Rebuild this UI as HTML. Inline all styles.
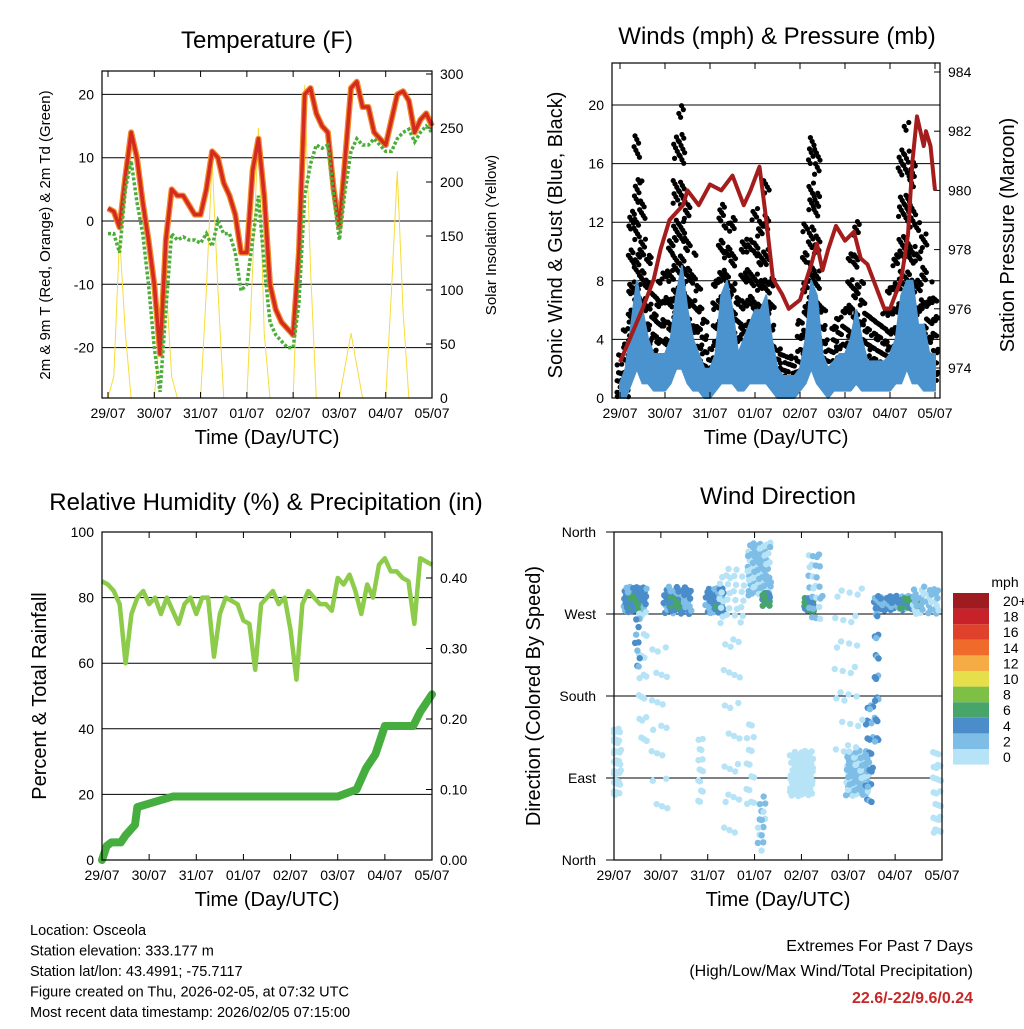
<!DOCTYPE html>
<html><head><meta charset="utf-8"><style>
body{margin:0;background:#fff;font-family:"Liberation Sans",Arial,sans-serif}
svg text{font-family:"Liberation Sans",Arial,sans-serif;fill:#000}
</style></head><body>
<svg id="s" width="1024" height="1024" viewBox="0 0 1024 1024" xmlns="http://www.w3.org/2000/svg"></svg>
<script>
// ---------- data (3-hourly, day 0..7) ----------
const dayLabels=["29/07","30/07","31/07","01/07","02/07","03/07","04/07","05/07"];
const tempT=[2,1.5,-1,7,14,10,3,-3,-10,-21,-3,5,4,4,2.5,1,1,5,11,10,6,4,1,-5,-5,8,13,4,-10,-14,-16,-17,-18,-5,20,21,17,15,14,5,-1,10,21,22,18,18,14,13,12,16,20,20.5,19,14,16,17,15];
const tempTd=[-2,-2,-5,5,9.5,3,-2,-10,-20,-27,-14,-2,-3,-2.5,-3,-3,-3.5,-2,-4,0,-2,-2,-5,-11,-10,-3,4,-7,-16,-18,-19,-20,-20,-13,4,9,12,11.5,12,4,-3,5,11,13,12,12,13,12,11,11,13,14,14.5,12.5,14,15,14];
const solar=[0,20,150,60,0,0,0,0,0,60,110,20,0,0,0,0,0,100,220,100,0,0,0,0,0,120,250,60,0,0,0,0,0,150,290,120,0,0,0,0,0,30,60,30,0,0,0,0,0,100,210,80,0,0,0,0,0];
const gustHi=[3,5,14,18,15,10,8,8,9,12,18,20,14,10,8,6,4,8,14,12,13,8,11,12,13,13,15,9,4,3,3,3,6,12,19,17,7,4,5,6,7,10,13,8,6,6,6,6,8,11,17,19,17,12,12,8,7];
const gustLo=[0,0,2,4,3,2,1,1,1,2,4,5,3,1,1,0.5,0.5,1,3,3,2,1,1,2,2,3,3,1,0.5,0.5,0.5,0.5,1,2,4,3,1,0.5,1,1,1,1,2,1,1,1,1,1,1,2,3,4,3,2,1,1,1];
const sustHi=[1,2,5,8,6,4,3,3,3,4,7,9,6,4,3,2,2,3,7,8,6,3,4,5,6,6,7,4,2,1.5,1.5,1.5,2,4,8,7,3,2,2.5,3,3,4,6,4,2.5,2.5,2.5,2.5,3,4,7,8,8,5,5,3,3];
const sustLo=[0,0,1,2,1,1,0.5,0.5,0.5,1,2,2,1,0.5,0.5,0,0,0.5,1,1,1,0.5,0.5,1,1,1,1,0.5,0,0,0,0,0.5,1,2,1,0.5,0,0.5,0.5,0.5,0.5,1,0.5,0.5,0.5,0.5,0.5,0.5,1,1,2,1,1,0.5,0.5,0.5];
const presT=[0,0.5,0.75,0.9,1.1,1.4,1.5,1.75,2.0,2.25,2.5,2.75,2.9,3.1,3.25,3.4,3.6,3.75,4.0,4.25,4.375,4.5,4.625,4.8,5.0,5.2,5.35,5.5,5.75,5.875,6.0,6.25,6.4,6.5,6.6,6.75,6.8,6.9,7.0];
const presV=[974.2,976,977,978,979,979.5,980,979.5,980.2,980,980.5,979.5,980,980.8,979,977,976.5,976,976.3,977.5,978.2,977.3,978,978.8,978.3,978.6,977.7,977.5,976.5,976,976,977,978.5,981,982.5,981.5,982,981.5,980];
const rh=[85,84,82,78,60,75,80,82,78,80,75,80,76,72,78,80,75,80,80,62,75,80,79,78,73,72,58,78,80,82,78,80,70,55,78,82,80,78,78,76,86,84,87,82,75,84,80,90,92,88,88,86,85,72,92,91,90];
const rainT=[0,0.1,0.2,0.4,0.5,0.7,0.75,1.0,1.5,5.0,5.2,5.4,5.6,5.8,6.0,6.6,6.75,7.0];
const rainV=[0,0.02,0.025,0.025,0.035,0.05,0.075,0.08,0.09,0.09,0.095,0.1,0.13,0.15,0.19,0.19,0.21,0.235];
// wind direction clusters: time, dir(deg), time spread, dir spread, count, speed(mph)
const clT=[0.45,0.45,1.35,1.3,2.15,2.25,2.5,3.1,3.25,4.15,4.3,6.0,6.3,6.65,0.05,4.0,5.2,5.45,1.85,2.9,3.15,6.9,0.6,1.0,2.5,5.0,5.6,0.5];
const clD=[285,283,285,282,285,282,290,320,285,280,300,282,282,285,105,95,95,115,100,110,40,70,200,150,150,200,200,240];
const clDT=[0.25,0.1,0.3,0.1,0.2,0.08,0.3,0.25,0.1,0.12,0.15,0.45,0.2,0.3,0.1,0.25,0.25,0.08,0.06,0.1,0.08,0.1,0.1,0.2,0.2,0.3,0.05,0.05];
const clDD=[15,8,15,6,15,5,30,30,8,8,40,8,6,15,40,25,25,60,40,50,30,50,80,100,120,100,80,30];
const clN=[50,12,50,12,35,10,30,70,15,20,25,70,20,35,40,80,80,25,15,15,15,25,20,20,25,30,20,10];
const clS=[5,7,4,7,4,7,1,3,7,7,2,4,7,2,1,1,2,4,1,1,3,1,1,1,1,1,4,4];
const speedLabels=["0","2","4","6","8","10","12","14","16","18","20+"];
const speedColors=["#b7e3f7","#7ebde6","#4a8dca","#47a56a","#7ebf46","#e5df4c","#f6ac44","#f06a2b","#e0412b","#c7222a","#9e1b1f"];
// ---------- helpers ----------
const S=document.getElementById('s');const NS="http://www.w3.org/2000/svg";
function el(tag,attrs,parent){const e=document.createElementNS(NS,tag);for(const k in attrs)e.setAttribute(k,attrs[k]);(parent||S).appendChild(e);return e;}
function txt(x,y,s,size,anchor,parent,rot,fill,weight){const a={x:x,y:y,'font-size':size,'text-anchor':anchor||'middle'};if(rot)a.transform=`rotate(${rot} ${x} ${y})`;if(fill)a.style='fill:'+fill;if(weight)a['font-weight']=weight;const t=el('text',a,parent);t.textContent=s;return t;}
function grp(name){const g=el('g',{});return g;}
function lin(a0,a1,p0,p1){return v=>p0+(v-a0)/(a1-a0)*(p1-p0);}
function ti(i,n){return i*7/(n-1);}
function fr(v){return v-Math.floor(v);}
function frame(g,x0,y0,x1,y1,xs){el('rect',{x:x0,y:y0,width:x1-x0,height:y1-y0,fill:'none',stroke:'#000','stroke-width':1.2},g);
 const xg=grp('x-axis');g.appendChild(xg);
 dayLabels.forEach((d,i)=>{const x=xs(i);el('line',{x1:x,x2:x,y1:y1,y2:y1-6,stroke:'#000'},xg);el('line',{x1:x,x2:x,y1:y0,y2:y0+6,stroke:'#000'},xg);txt(x,y1+20,d,14,'middle',xg);});
 txt((x0+x1)/2,y1+46,'Time (Day/UTC)',20,'middle',xg);}
// ---------- panel 1 temperature ----------
(function(){const g=grp('temperature-panel');S.appendChild(g);
const X0=102,X1=432,Y0=71,Y1=398;const xs=lin(0,7,108,432);const ys=lin(0,10,221,157.7);const yr=lin(0,300,398,74);
txt(267,48,'Temperature (F)',24,'middle',g);
[20,10,0,-10,-20].forEach(v=>{el('line',{x1:X0,x2:X1,y1:ys(v),y2:ys(v),stroke:'#000','stroke-width':1},g);txt(X0-8,ys(v)+5,String(v),14,'end',g);});
[0,50,100,150,200,250,300].forEach(v=>{el('line',{x1:X1,x2:X1-6,y1:yr(v),y2:yr(v),stroke:'#000'},g);txt(X1+8,yr(v)+5,String(v),14,'start',g);});
txt(50,235,'2m & 9m T (Red, Orange) & 2m Td (Green)',15,'middle',g,-90);
txt(496,235,'Solar Insolation (Yellow)',15,'middle',g,-90);
const sp=solar.map((v,i)=>xs(ti(i,solar.length))+','+yr(v)).join(' ');
const s=el('polyline',{points:sp,fill:'none',stroke:'#f7dc3c','stroke-width':1},g);
const tp=tempT.map((v,i)=>xs(ti(i,tempT.length))+','+ys(v)).join(' ');
const o=el('polyline',{points:tp,fill:'none',stroke:'#f08a2a','stroke-width':6,'stroke-linejoin':'round'},g);
const r=el('polyline',{points:tp,fill:'none',stroke:'#d42a20','stroke-width':3.5,'stroke-linejoin':'round'},g);
const dp=tempTd.map((v,i)=>xs(ti(i,tempTd.length))+','+ys(v)).join(' ');
const d=el('polyline',{points:dp,fill:'none',stroke:'#4cae3a','stroke-width':3.5,'stroke-dasharray':'3 2'},g);
frame(g,X0,Y0,X1,Y1,i=>xs(i));})();
// ---------- panel 2 winds ----------
(function(){const g=grp('winds-panel');S.appendChild(g);
const X0=612,X1=940,Y0=63,Y1=398;const xs=lin(0,7,620,935);const ys=lin(0,20,398,105);const yp=lin(974,984,368,72);
txt(777,44,'Winds (mph) & Pressure (mb)',24,'middle',g);
[0,4,8,12,16,20].forEach(v=>{el('line',{x1:X0,x2:X1,y1:ys(v),y2:ys(v),stroke:'#000'},g);txt(X0-8,ys(v)+5,String(v),14,'end',g);});
[974,976,978,980,982,984].forEach(v=>{el('line',{x1:X1,x2:X1-6,y1:yp(v),y2:yp(v),stroke:'#000'},g);txt(X1+8,yp(v)+5,String(v),14,'start',g);});
txt(562,235,'Sonic Wind & Gust (Blue, Black)',20,'middle',g,-90);
txt(1014,235,'Station Pressure (Maroon)',20,'middle',g,-90);
let k=0;
gustHi.forEach((v,i)=>{const n=gustHi.length;const lo=gustLo[i];const cnt=Math.round(10+v*2.5);
 for(let j=0;j<cnt;j++){k++;const a=fr(k*0.7548777)*2-1,b=Math.pow(fr(k*0.5698403),1.6);
  const c=el('circle',{cx:xs(ti(i,n)+a*0.07),cy:ys(lo+b*(v-lo)),r:2.6,fill:'#000'},g);
  
  }});
const n=sustHi.length;let p=sustHi.map((v,i)=>xs(ti(i,n))+','+ys(v));for(let i=n-1;i>=0;i--)p.push(xs(ti(i,n))+','+ys(sustLo[i]));
const b=el('polygon',{points:p.join(' '),fill:'#4a93cf',stroke:'#4a93cf','stroke-width':2,'stroke-linejoin':'round'},g);
const pp=presV.map((v,i)=>xs(presT[i])+','+yp(v)).join(' ');
const pl=el('polyline',{points:pp,fill:'none',stroke:'#a51c1c','stroke-width':4,'stroke-linejoin':'round'},g);
frame(g,X0,Y0,X1,Y1,i=>xs(i));})();
// ---------- panel 3 humidity ----------
(function(){const g=grp('humidity-panel');S.appendChild(g);
const X0=102,X1=432,Y0=532,Y1=860;const xs=lin(0,7,102,432);const ys=lin(0,100,860,532);const yr=lin(0,0.1,860,789.5);
txt(266,510,'Relative Humidity (%) & Precipitation (in)',24,'middle',g);
[0,20,40,60,80,100].forEach(v=>{if(v>0&&v<100)el('line',{x1:X0,x2:X1,y1:ys(v),y2:ys(v),stroke:'#000'},g);txt(X0-8,ys(v)+5,String(v),14,'end',g);});
[0,0.1,0.2,0.3,0.4].forEach(v=>{el('line',{x1:X1,x2:X1-6,y1:yr(v),y2:yr(v),stroke:'#000'},g);txt(X1+8,yr(v)+5,v.toFixed(2),14,'start',g);});
txt(46,696,'Percent & Total Rainfall',20,'middle',g,-90);
const hp=rh.map((v,i)=>xs(ti(i,rh.length))+','+ys(v)).join(' ');
const h=el('polyline',{points:hp,fill:'none',stroke:'#8dcb4a','stroke-width':4.5,'stroke-linejoin':'round'},g);
const rp=rainV.map((v,i)=>xs(rainT[i])+','+yr(v)).join(' ');
const r=el('polyline',{points:rp,fill:'none',stroke:'#46ae3e','stroke-width':8,'stroke-linejoin':'round','stroke-linecap':'round'},g);
frame(g,X0,Y0,X1,Y1,i=>xs(i));})();
// ---------- panel 4 wind direction ----------
(function(){const g=grp('wind-direction-panel');S.appendChild(g);
const X0=614,X1=942,Y0=532,Y1=860;const xs=lin(0,7,X0,X1);const yd=lin(0,360,860,532);
txt(778,504,'Wind Direction',24,'middle',g);
[[360,'North'],[270,'West'],[180,'South'],[90,'East'],[0,'North']].forEach(([v,l])=>{el('line',{x1:606,x2:X1,y1:yd(v),y2:yd(v),stroke:'#000'},g);txt(596,yd(v)+5,l,14,'end',g);});
txt(540,696,'Direction (Colored By Speed)',20,'middle',g,-90);
let q=0;
clT.forEach((t,k)=>{for(let i=0;i<clN[k];i++){q++;const a=fr(q*0.7548777)*2-1,b=fr(q*0.5698403)*2-1;
 const sp=Math.min(10,Math.floor(clS[k]/2+((i%3===0)?-1:0)));const col=speedColors[Math.max(0,sp)];
 const c=el('circle',{cx:Math.max(X0,Math.min(X1,xs(t+a*clDT[k]))),cy:yd(Math.max(0,Math.min(360,clD[k]+b*clDD[k]))),r:3.2,fill:col},g);
 
 }});
frame(g,X0,Y0,X1,Y1,i=>xs(i));
const lg=grp('speed-colorbar');g.appendChild(lg);
txt(1005,587,'mph',14,'middle',lg);
speedColors.forEach((c,i)=>{const y=749-i*15.6;el('rect',{x:953,y:y,width:36,height:15.6,fill:c},lg);txt(1003,y+13,speedLabels[i],14,'start',lg);});
})();
// ---------- footer text ----------
const ft=grp('station-info');S.appendChild(ft);
["Location: Osceola","Station elevation: 333.177 m","Station lat/lon: 43.4991; -75.7117","Figure created on Thu, 2026-02-05, at 07:32 UTC","Most recent data timestamp: 2026/02/05 07:15:00"].forEach((s,i)=>txt(30,935+i*20.5,s,14.5,'start',ft));
const ex=grp('extremes-summary');S.appendChild(ex);
txt(973,951,'Extremes For Past 7 Days',16,'end',ex);
txt(973,976,'(High/Low/Max Wind/Total Precipitation)',16,'end',ex);
txt(973,1003,'22.6/-22/9.6/0.24',16,'end',ex,null,'#c62828','bold');
</script>
</body></html>
